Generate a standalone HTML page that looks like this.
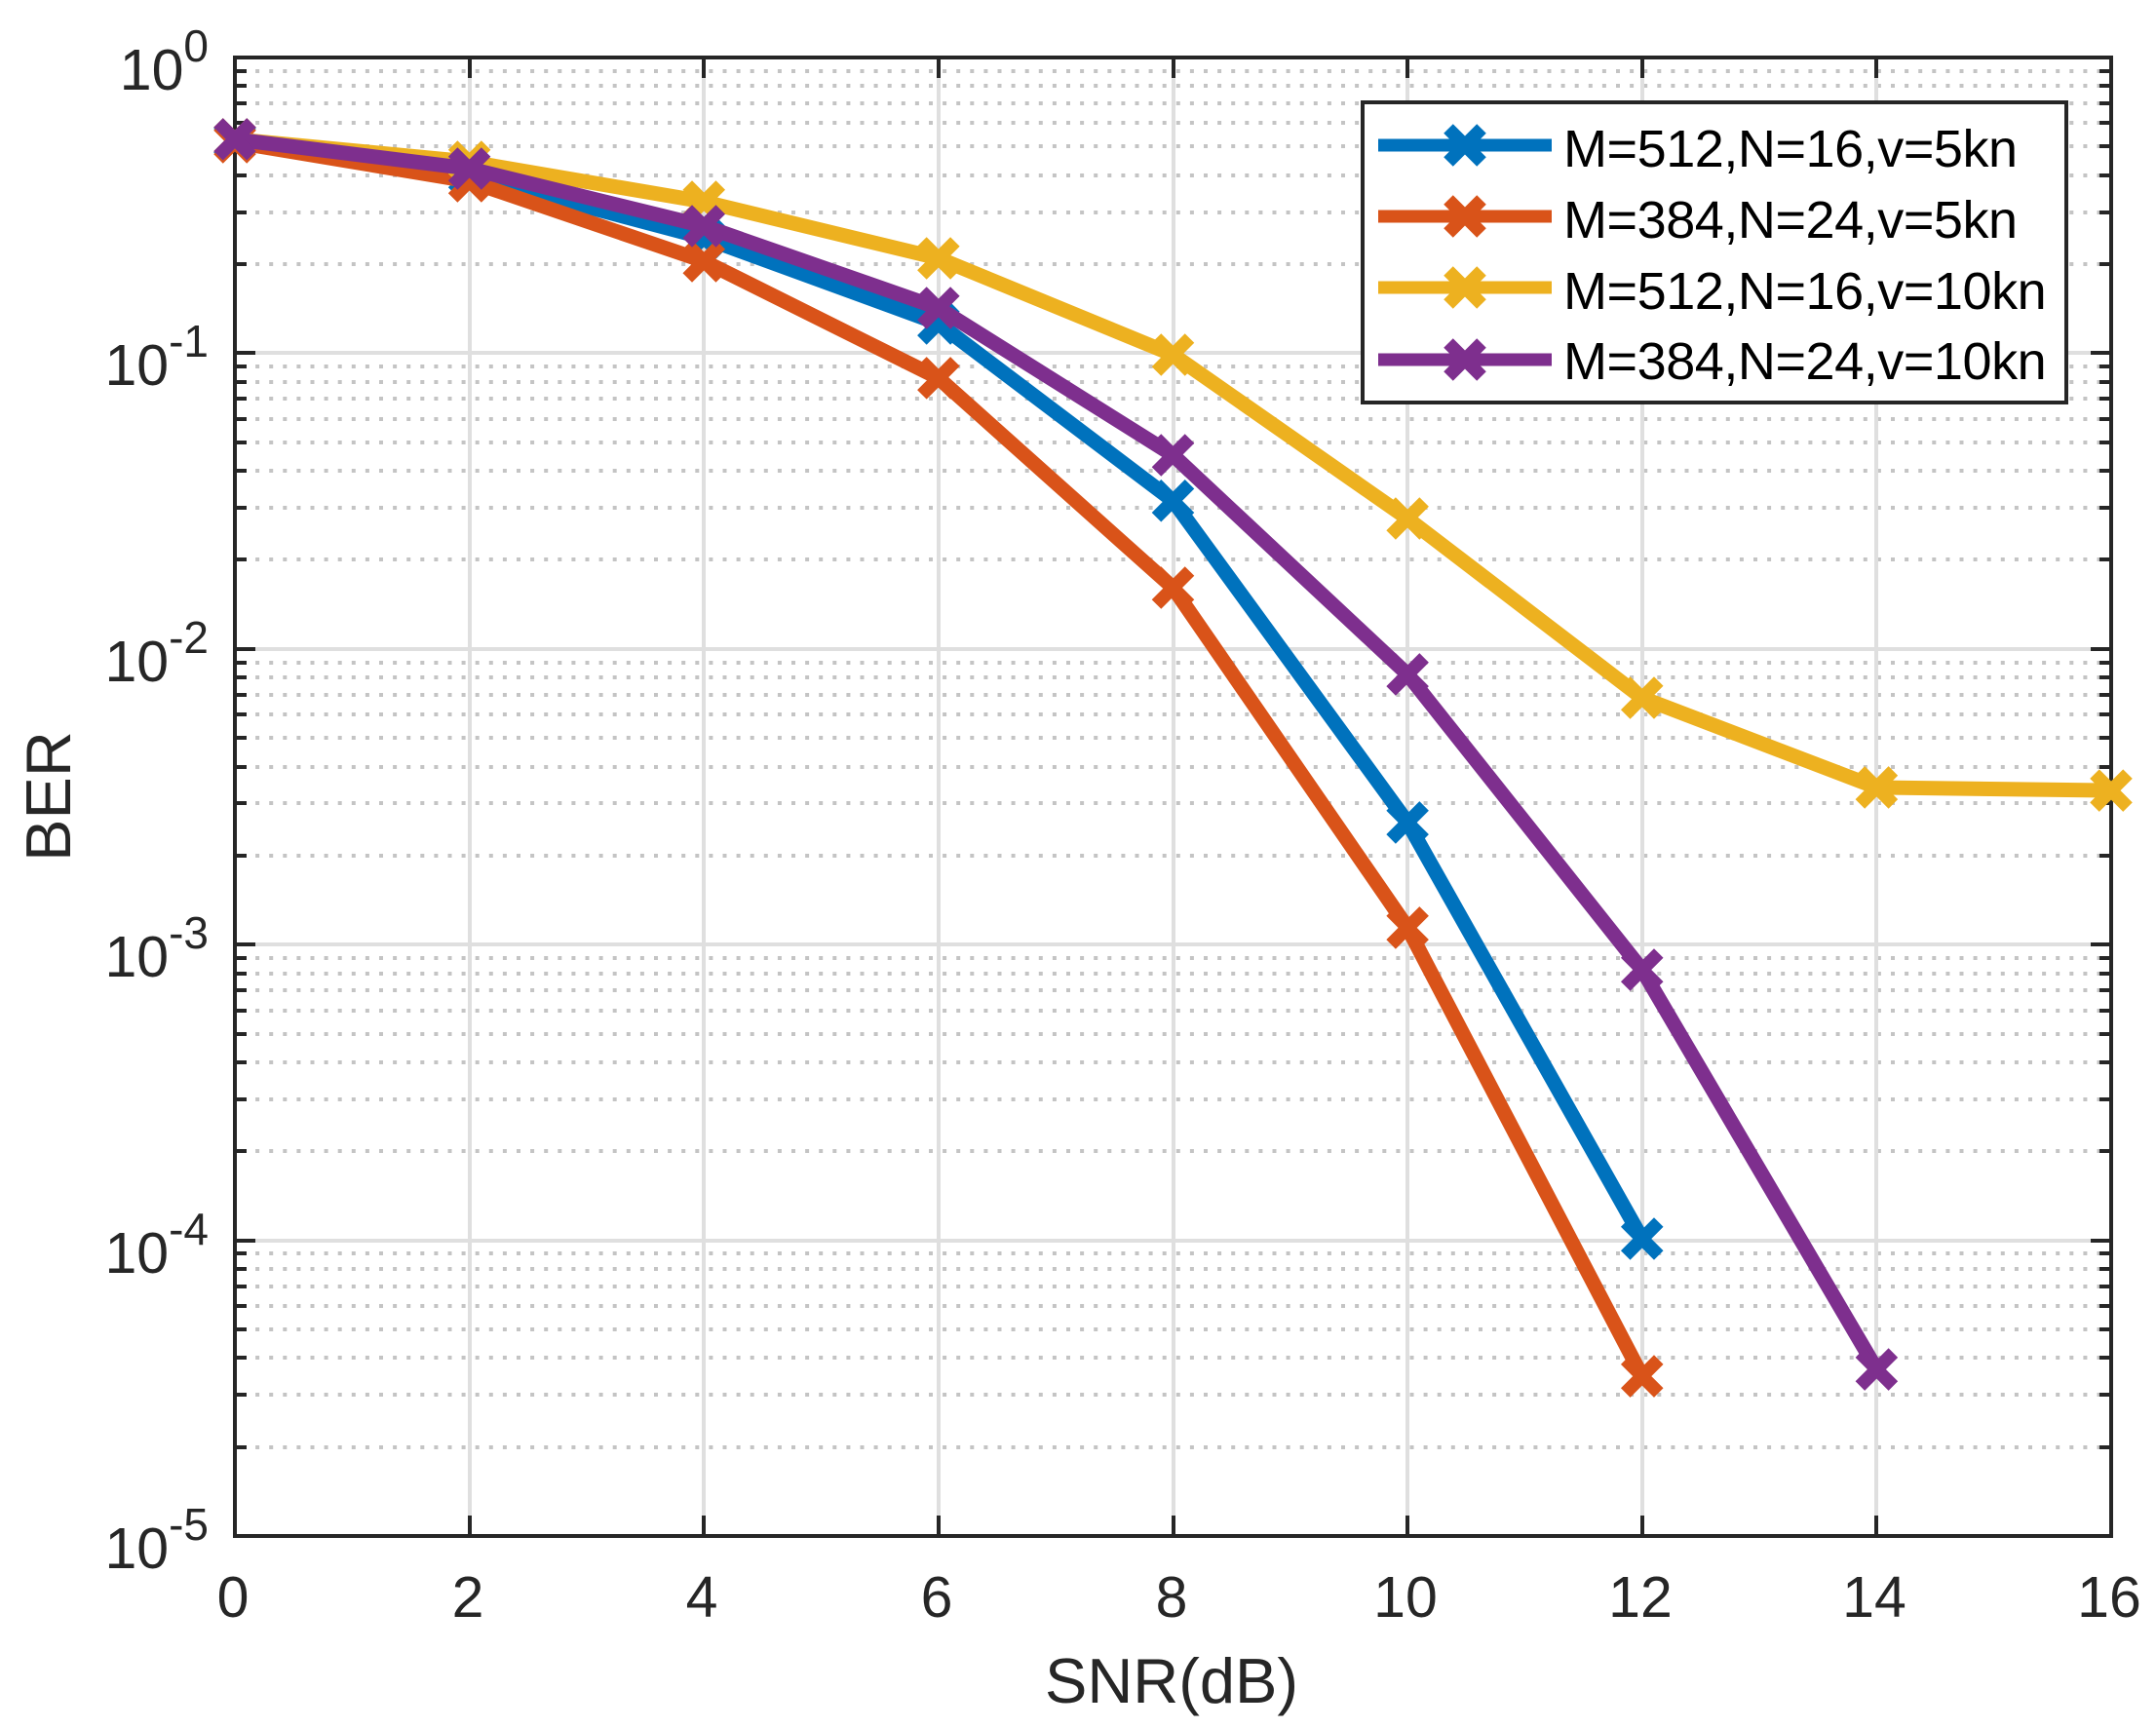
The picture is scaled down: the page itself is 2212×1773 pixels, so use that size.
<!DOCTYPE html>
<html lang="en">
<head>
<meta charset="utf-8">
<title>BER vs SNR</title>
<style>
html,body{margin:0;padding:0;background:#fff;}
svg{display:block;font-family:"Liberation Sans",Arial,sans-serif;}
.legend-text{letter-spacing:-0.45px;}
</style>
</head>
<body>
<svg id="chart" xmlns="http://www.w3.org/2000/svg" width="2212" height="1773" viewBox="0 0 2212 1773">
  <rect x="0" y="0" width="2212" height="1773" fill="#ffffff"/>
  <g id="grid"></g>
  <g id="axes"></g>
  <g id="ticklabels"></g>
  <g id="series"></g>
  <text x="1202" y="1747" font-size="65" text-anchor="middle" fill="#262626">SNR(dB)</text>
  <text transform="translate(72,817) rotate(-90)" font-size="65" text-anchor="middle" fill="#262626">BER</text>
  <g id="legend">
    <rect x="1398" y="105" width="722" height="308" fill="#ffffff" stroke="#262626" stroke-width="4"/>
    <g>
      <path d="M1414 149H1592" fill="none" stroke="#0072bd" stroke-width="13"/>
      <path d="M1486 132L1520 166M1486 166L1520 132" fill="none" stroke="#0072bd" stroke-width="13.5"/>
      <text class="legend-text" x="1604" y="171" font-size="54" fill="#000000">M=512,N=16,v=5kn</text>
    </g>
    <g>
      <path d="M1414 222H1592" fill="none" stroke="#d95319" stroke-width="13"/>
      <path d="M1486 205L1520 239M1486 239L1520 205" fill="none" stroke="#d95319" stroke-width="13.5"/>
      <text class="legend-text" x="1604" y="244" font-size="54" fill="#000000">M=384,N=24,v=5kn</text>
    </g>
    <g>
      <path d="M1414 295H1592" fill="none" stroke="#edb120" stroke-width="13"/>
      <path d="M1486 278L1520 312M1486 312L1520 278" fill="none" stroke="#edb120" stroke-width="13.5"/>
      <text class="legend-text" x="1604" y="317" font-size="54" fill="#000000">M=512,N=16,v=10kn</text>
    </g>
    <g>
      <path d="M1414 369H1592" fill="none" stroke="#7e2f8e" stroke-width="13"/>
      <path d="M1486 352L1520 386M1486 386L1520 352" fill="none" stroke="#7e2f8e" stroke-width="13.5"/>
      <text class="legend-text" x="1604" y="389" font-size="54" fill="#000000">M=384,N=24,v=10kn</text>
    </g>
  </g>
</svg>
<script>
// Chart data
var snrValues = [0, 2, 4, 6, 8, 10, 12, 14, 16];
var berM512N16V5 = [0.524, 0.399, 0.2456, 0.126, 0.0317, 0.002587, 0.0001012];
var berM384N24V5 = [0.517, 0.3814, 0.2047, 0.0824, 0.01611, 0.00114, 0.0000347];
var berM512N16V10 = [0.529, 0.444, 0.3252, 0.2094, 0.0988, 0.0276, 0.00683, 0.0034, 0.00332];
var berM384N24V10 = [0.529, 0.421, 0.269, 0.1422, 0.0452, 0.0082, 0.000822, 0.0000366];
var xTickLabels = ["0", "2", "4", "6", "8", "10", "12", "14", "16"];
var yTickExponents = ["0", "-1", "-2", "-3", "-4", "-5"];
var minorMultipliers = [2, 3, 4, 5, 6, 7, 8, 9];

var NS = "http://www.w3.org/2000/svg";
var LEFT = 241, RIGHT = 2166, TOP = 59, BOTTOM = 1576;
var X_MIN = 0, X_MAX = 16, LOG_MIN = -5, LOG_MAX = 0;

function xScale(v) {
  return LEFT + (v - X_MIN) / (X_MAX - X_MIN) * (RIGHT - LEFT);
}
function yScale(v) {
  return TOP + (LOG_MAX - Math.log10(v)) / (LOG_MAX - LOG_MIN) * (BOTTOM - TOP);
}
function make(tag, attrs, parent) {
  var el = document.createElementNS(NS, tag);
  for (var k in attrs) { el.setAttribute(k, attrs[k]); }
  parent.appendChild(el);
  return el;
}

var gridLayer = document.getElementById("grid");
var axesLayer = document.getElementById("axes");
var labelLayer = document.getElementById("ticklabels");
var seriesLayer = document.getElementById("series");

// Minor horizontal grid lines
yTickExponents.forEach(function (expLabel) {
  var e = Number(expLabel);
  if (e <= LOG_MIN) { return; }
  minorMultipliers.forEach(function (m) {
    var v = m * Math.pow(10, e - 1);
    var y = Math.round(yScale(v));
    var line = make("line", { x1: 248, x2: RIGHT, y1: y, y2: y, stroke: "#c4c4c4", "stroke-width": 4, "stroke-dasharray": "4 10.1" }, gridLayer);
    
    
    var tl = make("line", { x1: LEFT, x2: LEFT + 12, y1: y, y2: y, stroke: "#262626", "stroke-width": 4 }, axesLayer);
    
    
    var tr = make("line", { x1: RIGHT - 12, x2: RIGHT, y1: y, y2: y, stroke: "#262626", "stroke-width": 4 }, axesLayer);
    
    
  });
});

// Major horizontal grid lines, ticks and labels
yTickExponents.forEach(function (expLabel) {
  var v = Math.pow(10, Number(expLabel));
  var y = Math.round(yScale(v));
  var line = make("line", { x1: LEFT, x2: RIGHT, y1: y, y2: y, stroke: "#dfdfdf", "stroke-width": 4 }, gridLayer);
  
  
  var tl = make("line", { x1: LEFT, x2: LEFT + 21, y1: y, y2: y, stroke: "#262626", "stroke-width": 4 }, axesLayer);
  
  
  var tr = make("line", { x1: RIGHT - 21, x2: RIGHT, y1: y, y2: y, stroke: "#262626", "stroke-width": 4 }, axesLayer);
  
  
  var label = make("text", { x: 214, y: y + 33, "text-anchor": "end", "font-size": 59, fill: "#262626" }, labelLayer);
  
  
  var base = make("tspan", {}, label);
  base.textContent = "10";
  var sup = make("tspan", { dy: -29, "font-size": 46 }, label);
  sup.textContent = expLabel;
});

// Vertical grid lines, ticks and labels
xTickLabels.forEach(function (text) {
  var x = Math.round(xScale(Number(text)));
  var line = make("line", { x1: x, x2: x, y1: TOP, y2: BOTTOM, stroke: "#dfdfdf", "stroke-width": 4 }, gridLayer);
  
  
  var tb = make("line", { x1: x, x2: x, y1: BOTTOM - 21, y2: BOTTOM, stroke: "#262626", "stroke-width": 4 }, axesLayer);
  
  
  var tt = make("line", { x1: x, x2: x, y1: TOP, y2: TOP + 21, stroke: "#262626", "stroke-width": 4 }, axesLayer);
  
  
  var label = make("text", { x: x - 2, y: 1659, "text-anchor": "middle", "font-size": 59, fill: "#262626" }, labelLayer);
  
  
  label.textContent = text;
});

// Axes box
var box = make("rect", { x: LEFT, y: TOP, width: RIGHT - LEFT, height: BOTTOM - TOP, fill: "none", stroke: "#262626", "stroke-width": 4 }, axesLayer);



// Series
function drawSeries(values, color, name) {
  var points = values.map(function (v, i) {
    return xScale(snrValues[i]).toFixed(2) + "," + yScale(v).toFixed(2);
  }).join(" ");
  var group = make("g", {}, seriesLayer);
  
  
  var poly = make("polyline", { points: points, fill: "none", stroke: color, "stroke-width": 15, "stroke-linejoin": "miter" }, group);
  
  
  values.forEach(function (v, i) {
    var cx = xScale(snrValues[i]), cy = yScale(v), d = 17;
    var marker = make("path", {
      d: "M" + (cx - d) + " " + (cy - d) + "L" + (cx + d) + " " + (cy + d) + "M" + (cx - d) + " " + (cy + d) + "L" + (cx + d) + " " + (cy - d),
      fill: "none", stroke: color, "stroke-width": 13.5
    }, group);
    
    
  });
}
drawSeries(berM512N16V5, "#0072bd", "series-m512-n16-v5kn");
drawSeries(berM384N24V5, "#d95319", "series-m384-n24-v5kn");
drawSeries(berM512N16V10, "#edb120", "series-m512-n16-v10kn");
drawSeries(berM384N24V10, "#7e2f8e", "series-m384-n24-v10kn");
</script>
</body>
</html>
